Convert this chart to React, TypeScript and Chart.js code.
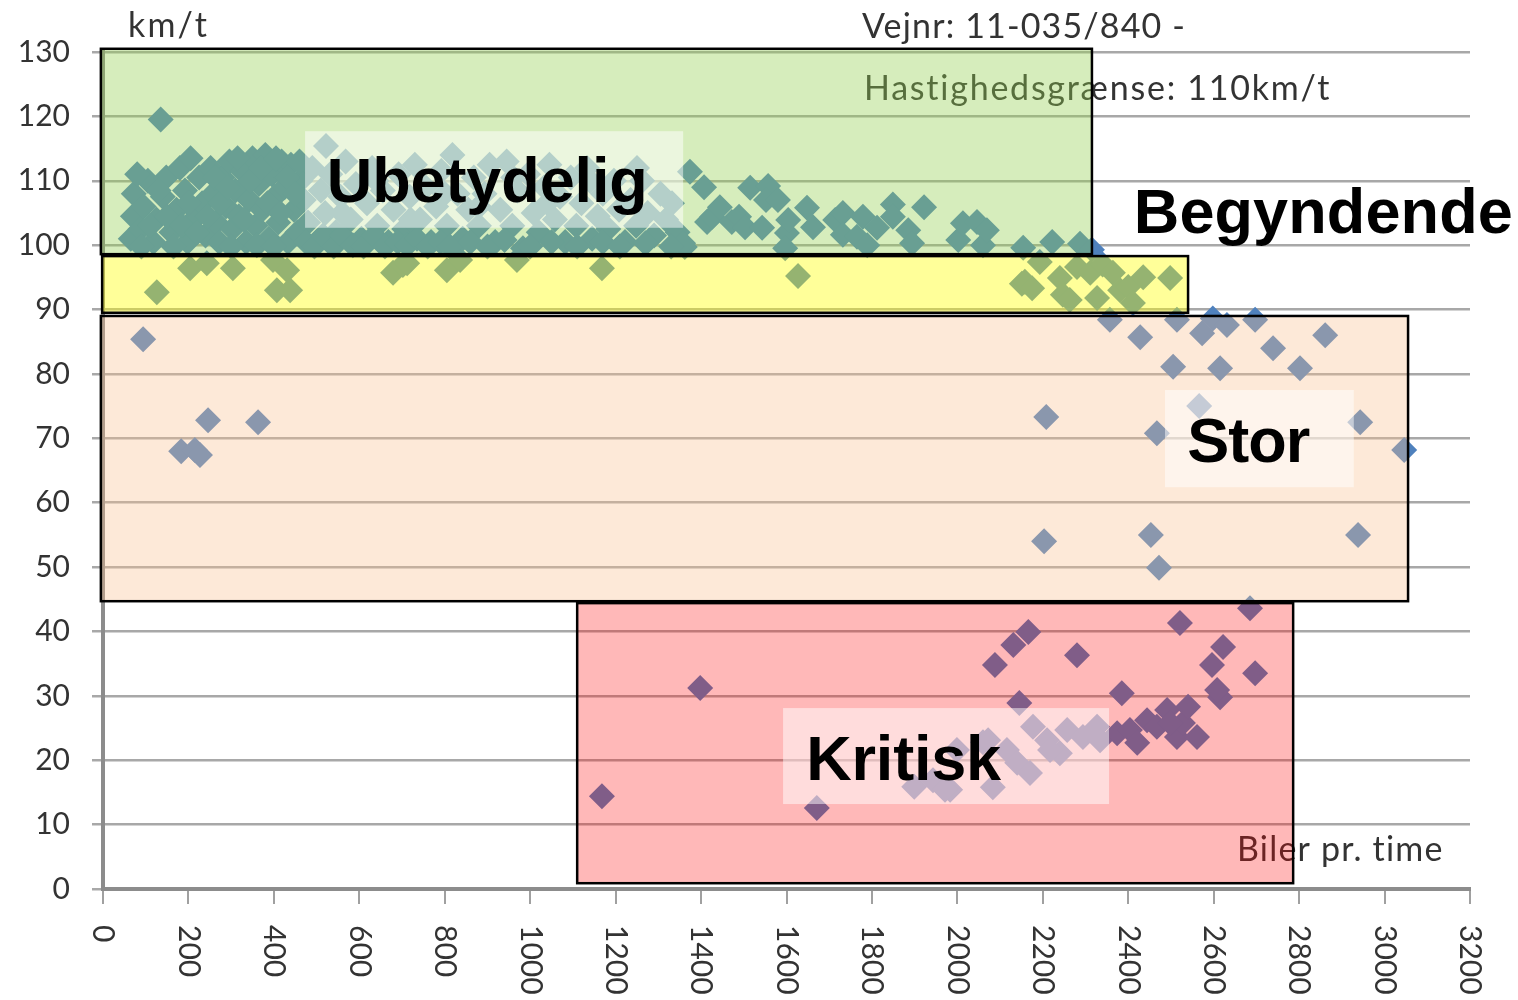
import React, { useEffect, useRef } from 'react';
import { Chart, registerables } from 'chart.js';

Chart.register(...registerables);

// ---------- data ----------
const X_TICK_VALUES = [0, 200, 400, 600, 800, 1000, 1200, 1400, 1600, 1800, 2000, 2200, 2400, 2600, 2800, 3000, 3200];
const X_TICK_LABELS = ['0', '200', '400', '600', '800', '1000', '1200', '1400', '1600', '1800', '2000', '2200', '2400', '2600', '2800', '3000', '3200'];
const Y_TICK_LABELS = ['0', '10', '20', '30', '40', '50', '60', '70', '80', '90', '100', '110', '120', '130'];

// points: [biler pr. time, km/t]
const UBETYDELIG_PTS: [number, number][] = [
  [135, 119.5], [522, 115.4],
  [65, 101], [70, 104.5], [72, 108], [88, 102.5], [95, 106], [105, 110], [118, 100.5], [125, 104], [140, 107.5], [148, 110.5],
  [160, 102], [172, 105.5], [180, 112], [192, 108.5], [198, 100.5], [205, 113.5], [212, 104], [225, 110.5], [232, 106.5], [240, 101.5],
  [252, 112], [258, 108], [265, 103.5], [272, 100.5], [280, 110.5], [288, 106], [296, 113], [303, 102.5], [310, 108.5], [318, 104.5],
  [326, 111.5], [335, 100.5], [342, 107], [350, 113.5], [357, 103], [365, 109.5], [373, 105.5], [380, 114], [388, 101], [395, 111],
  [402, 107.5], [410, 103.5], [418, 113], [425, 109], [433, 100.5], [440, 112.5], [447, 105.5], [455, 102], [462, 110], [470, 107],
  [480, 103.5], [490, 112], [500, 100.5], [510, 108.5], [520, 105], [532, 111], [545, 102], [556, 107.5], [568, 113], [580, 104],
  [592, 109.5], [605, 101], [618, 106.5], [630, 112], [642, 103], [655, 108.5], [668, 100.5], [680, 105.5], [692, 111], [705, 102.5],
  [718, 107.5], [730, 112.5], [742, 104], [755, 109], [768, 100.5], [780, 106], [792, 111.5], [805, 103], [818, 114], [830, 108],
  [842, 101], [855, 105.5], [868, 110.5], [880, 103], [893, 108], [905, 112.5], [918, 100.5], [930, 105.5], [945, 113], [958, 103],
  [970, 108.5], [983, 99.5], [995, 111], [1008, 105], [1020, 102], [1033, 109], [1045, 112.5], [1058, 104], [1070, 107.5], [1082, 100.5],
  [1095, 110.5], [1108, 103], [1120, 106.5], [1133, 112], [1145, 101], [1158, 104.5], [1170, 108], [1183, 102.5], [1196, 110], [1208, 105.5],
  [1222, 100.5], [1235, 107], [1248, 103], [1262, 110], [1275, 105], [1290, 101.5], [1305, 108], [1318, 104], [1332, 106.5], [1345, 102],
  [1358, 100.3], [1374, 111.4],
  [80, 111], [90, 99.8], [110, 103], [130, 108.5], [150, 104.5], [165, 99.8], [185, 103], [200, 106.5], [220, 102], [245, 104.5],
  [262, 110.5], [275, 106.5], [292, 109], [300, 99.8], [315, 113.5], [330, 104], [345, 110], [360, 100], [370, 112], [385, 106.5],
  [400, 99.8], [405, 113.5], [415, 105], [430, 110.5], [450, 108], [460, 113], [475, 100.5],
  [495, 99.8], [515, 101.5], [540, 99.8], [560, 101.5], [585, 100], [610, 99.8], [635, 101.5], [660, 99.8], [690, 100.5], [712, 100],
  [735, 101], [760, 99.8], [790, 100.5], [812, 99.8], [860, 100.5], [900, 99.8], [940, 100.8], [1000, 99.8], [1050, 100.5], [1110, 99.8],
  [1170, 100.5], [1210, 99.8], [1270, 100.3], [1330, 99.8],
  [560, 105], [640, 110], [720, 104], [800, 108], [880, 106], [960, 110.5], [1040, 106.5], [1140, 110], [1250, 112],
  [1407, 109], [1414, 103.6], [1426, 104.4], [1444, 105.9], [1472, 103.6], [1489, 104.4], [1503, 102.8], [1515, 108.9], [1543, 102.7],
  [1557, 109.2], [1552, 107], [1580, 107], [1601, 101.9], [1597, 99.5], [1604, 103.9], [1648, 105.8], [1662, 102.8], [1714, 103.9],
  [1732, 105], [1732, 101.6], [1765, 101.3], [1779, 104.4], [1789, 100], [1812, 102.7], [1849, 106.3], [1849, 104.4], [1885, 102.3],
  [1894, 100.3], [1922, 105.9], [2002, 100.8], [2013, 103.4], [2046, 103.6], [2060, 100], [2069, 102.3], [2154, 99.6], [2222, 100.5],
  [2287, 100.2], [2315, 99.3],
];

const BEGYNDENDE_PTS: [number, number][] = [
  [126, 92.7], [204, 96.4], [243, 97.2], [304, 96.4], [398, 97.7], [407, 93], [431, 96.1], [438, 93], [679, 95.7], [702, 96.9],
  [712, 97.2], [805, 96.1], [836, 97.7], [969, 97.7], [1168, 96.4], [1362, 99.7], [1627, 95.2],
  [2151, 94], [2158, 94.3], [2175, 93.3], [2193, 97.4], [2240, 94.9], [2247, 92.3], [2263, 91.5], [2280, 96.6], [2311, 95.7],
  [2327, 91.8], [2340, 97], [2364, 95.7], [2381, 93], [2400, 93.5], [2411, 91], [2435, 95], [2498, 94.9],
];

const STOR_PTS: [number, number][] = [
  [94, 85.4], [183, 68], [215, 68.2], [227, 67.4], [246, 72.8], [363, 72.5],
  [2357, 88.4], [2428, 85.7], [2514, 88.4], [2573, 86.3], [2598, 88.6], [2631, 87.6], [2697, 88.4], [2739, 84], [2861, 86],
  [2505, 81.1], [2615, 80.9], [2802, 80.9], [2566, 75], [2467, 70.8], [2208, 73.3], [2203, 54], [2453, 55], [2472, 49.9],
  [2943, 72.5], [2938, 55], [3046, 68.2],
];

const KRITISK_PTS: [number, number][] = [
  [1168, 14.4], [1398, 31.2], [1671, 12.6],
  [2166, 39.9], [2131, 37.9], [2088, 34.8], [2280, 36.3], [2145, 28.9], [2521, 41.3], [2685, 43.6], [2622, 37.6], [2596, 34.8],
  [2697, 33.5], [2615, 29.8], [2608, 30.9], [2385, 30.4],
  [2374, 24.2], [2404, 24.7], [2421, 22.7], [2444, 26.2], [2467, 25.2], [2491, 27.8], [2514, 23.6], [2528, 25.8], [2540, 28.3],
  [2561, 23.6], [2498, 25.8],
  [2177, 25.2], [2210, 23.1], [2240, 21.1], [2257, 24.7], [2294, 23.6], [2327, 25.2], [2334, 23.1], [2217, 21.6], [2116, 21.6],
  [2140, 19.6], [2170, 18], [2083, 15.8], [2060, 22.8], [1999, 21.6], [1983, 15.4], [1899, 15.9], [1943, 16.9], [1971, 15.4],
  [2072, 23.1],
];

// ---------- annotation overlays (value space) ----------
const REGIONS = [
  { x0: -5, x1: 2315, y0: 130.5, y1: 98.6, fill: 'rgba(146,208,80,0.38)' },
  { x0: -2, x1: 2540, y0: 98.3, y1: 89.5, fill: 'rgba(255,255,0,0.40)' },
  { x0: -5, x1: 3055, y0: 89.0, y1: 44.7, fill: 'rgba(250,192,144,0.35)' },
  { x0: 1110, x1: 2786, y0: 44.4, y1: 0.9, fill: 'rgba(255,0,0,0.28)' },
];

const LABEL_BOXES = [
  { x0: 473, x1: 1358, y0: 117.7, y1: 102.7 },
  { x0: 2486, x1: 2928, y0: 77.5, y1: 62.4 },
  { x0: 1592, x1: 2355, y0: 28.1, y1: 13.2 },
];

const ZONE_LABELS = [
  { text: 'Ubetydelig', x: 524, y: 106.7, w: 321 },
  { text: 'Begyndende', x: 2413, y: 101.9, w: 379 },
  { text: 'Stor', x: 2538, y: 66.3, w: 123 },
  { text: 'Kritisk', x: 1646, y: 16.9, w: 195 },
];

const SMALL_TEXTS = [
  { text: 'km/t', x: 128, y: 37, w: 79 },
  { text: 'Vejnr: 11-035/840 -', x: 862, y: 38, w: 323 },
  { text: 'Hastighedsgrænse: 110km/t', x: 864, y: 100, w: 466 },
  { text: 'Biler pr. time', x: 1237, y: 861, w: 206 },
];

const TEXT_COLOR = '#333333';
const SMALL_FONT = '34px Lato';
const TICK_FONT_SIZE = 30;
const BOLD_FONT = 'bold 63px "Liberation Sans", Arial, sans-serif';

function fitText(ctx: CanvasRenderingContext2D, text: string, x: number, y: number, width: number) {
  const c = ctx as any;
  c.letterSpacing = '0px';
  const w = ctx.measureText(text).width;
  const n = text.length;
  const ls = n > 1 ? (width - w) / (n - 1) : 0;
  c.letterSpacing = ls.toFixed(2) + 'px';
  ctx.fillText(text, x, y);
  c.letterSpacing = '0px';
}

const overlayPlugin = {
  id: 'overlayPlugin',
  beforeDatasetsDraw(chart: any) {
    const ctx: CanvasRenderingContext2D = chart.ctx;
    ctx.save();
    ctx.fillStyle = TEXT_COLOR;
    ctx.font = SMALL_FONT;
    ctx.textAlign = 'left';
    ctx.textBaseline = 'alphabetic';
    for (const t of SMALL_TEXTS) fitText(ctx, t.text, t.x, t.y, t.w);
    ctx.restore();
  },
  afterDatasetsDraw(chart: any) {
    const ctx: CanvasRenderingContext2D = chart.ctx;
    const xs = chart.scales.x;
    const ys = chart.scales.y;
    ctx.save();
    for (const r of REGIONS) {
      const l = xs.getPixelForValue(r.x0);
      const rr = xs.getPixelForValue(r.x1);
      const t = ys.getPixelForValue(r.y0);
      const b = ys.getPixelForValue(r.y1);
      ctx.fillStyle = r.fill;
      ctx.fillRect(l, t, rr - l, b - t);
      ctx.strokeStyle = '#000';
      ctx.lineWidth = 2.5;
      ctx.strokeRect(l, t, rr - l, b - t);
    }
    for (const r of LABEL_BOXES) {
      const l = xs.getPixelForValue(r.x0);
      const rr = xs.getPixelForValue(r.x1);
      const t = ys.getPixelForValue(r.y0);
      const b = ys.getPixelForValue(r.y1);
      ctx.fillStyle = 'rgba(255,255,255,0.5)';
      ctx.fillRect(l, t, rr - l, b - t);
    }
    ctx.fillStyle = '#000';
    ctx.font = BOLD_FONT;
    ctx.textAlign = 'left';
    ctx.textBaseline = 'alphabetic';
    for (const z of ZONE_LABELS) {
      fitText(ctx, z.text, xs.getPixelForValue(z.x), ys.getPixelForValue(z.y), z.w);
    }
    ctx.restore();
  },
  afterDraw(chart: any) {
    const ctx: CanvasRenderingContext2D = chart.ctx;
    const xs = chart.scales.x;
    const top = chart.chartArea.bottom + 36;
    ctx.save();
    ctx.fillStyle = TEXT_COLOR;
    ctx.font = `${TICK_FONT_SIZE}px Lato`;
    ctx.textAlign = 'left';
    ctx.textBaseline = 'middle';
    X_TICK_VALUES.forEach((v, i) => {
      const px = xs.getPixelForValue(v);
      ctx.save();
      ctx.translate(px, top);
      ctx.rotate(Math.PI / 2);
      ctx.fillText(X_TICK_LABELS[i], 0, 0);
      ctx.restore();
    });
    ctx.restore();
  },
};

export default function App() {
  const ref = useRef<HTMLCanvasElement | null>(null);

  useEffect(() => {
    if (!ref.current) return;
    const toXY = (arr: [number, number][]) => arr.map(([x, y]) => ({ x, y }));
    const pointStyle = {
      pointStyle: 'rectRot' as const,
      pointRadius: 13,
      pointBackgroundColor: '#4f81bd',
      pointBorderWidth: 0,
      borderWidth: 0,
      showLine: false,
    };
    const chart = new Chart(ref.current, {
      type: 'scatter',
      data: {
        datasets: [
          { label: 'Ubetydelig', data: toXY(UBETYDELIG_PTS), ...pointStyle },
          { label: 'Begyndende', data: toXY(BEGYNDENDE_PTS), ...pointStyle },
          { label: 'Stor', data: toXY(STOR_PTS), ...pointStyle },
          { label: 'Kritisk', data: toXY(KRITISK_PTS), ...pointStyle },
        ],
      },
      options: {
        animation: false,
        responsive: false,
        layout: { padding: { top: 52, right: 48, left: 0, bottom: 0 } },
        plugins: { legend: { display: false }, tooltip: { enabled: false }, title: { display: false } },
        scales: {
          x: {
            type: 'linear',
            min: 0,
            max: 3200,
            ticks: { stepSize: 200, display: false },
            grid: { drawOnChartArea: false, drawTicks: true, tickLength: 15, color: '#a0a0a0', lineWidth: 2 },
            border: { display: true, color: '#8c8c8c', width: 4 },
            afterFit: (s: any) => { s.height = 111; },
          },
          y: {
            type: 'linear',
            min: 0,
            max: 130,
            ticks: {
              stepSize: 10,
              padding: 22,
              color: TEXT_COLOR,
              font: { family: 'Lato', size: TICK_FONT_SIZE },
              callback: (v: any) => Y_TICK_LABELS[Math.round(Number(v) / 10)] ?? String(v),
            },
            grid: { color: '#a8a8a8', lineWidth: 2.5, tickLength: 11 },
            border: { display: true, color: '#8c8c8c', width: 4 },
            afterFit: (s: any) => { s.width = 103; },
          },
        },
      },
      plugins: [overlayPlugin],
    });
    return () => chart.destroy();
  }, []);

  return (
    <div style={{ position: 'absolute', left: 0, top: 0, width: 1518, height: 1000, background: '#fff' }}>
      <canvas ref={ref} width={1518} height={1000} style={{ display: 'block' }} />
    </div>
  );
}
